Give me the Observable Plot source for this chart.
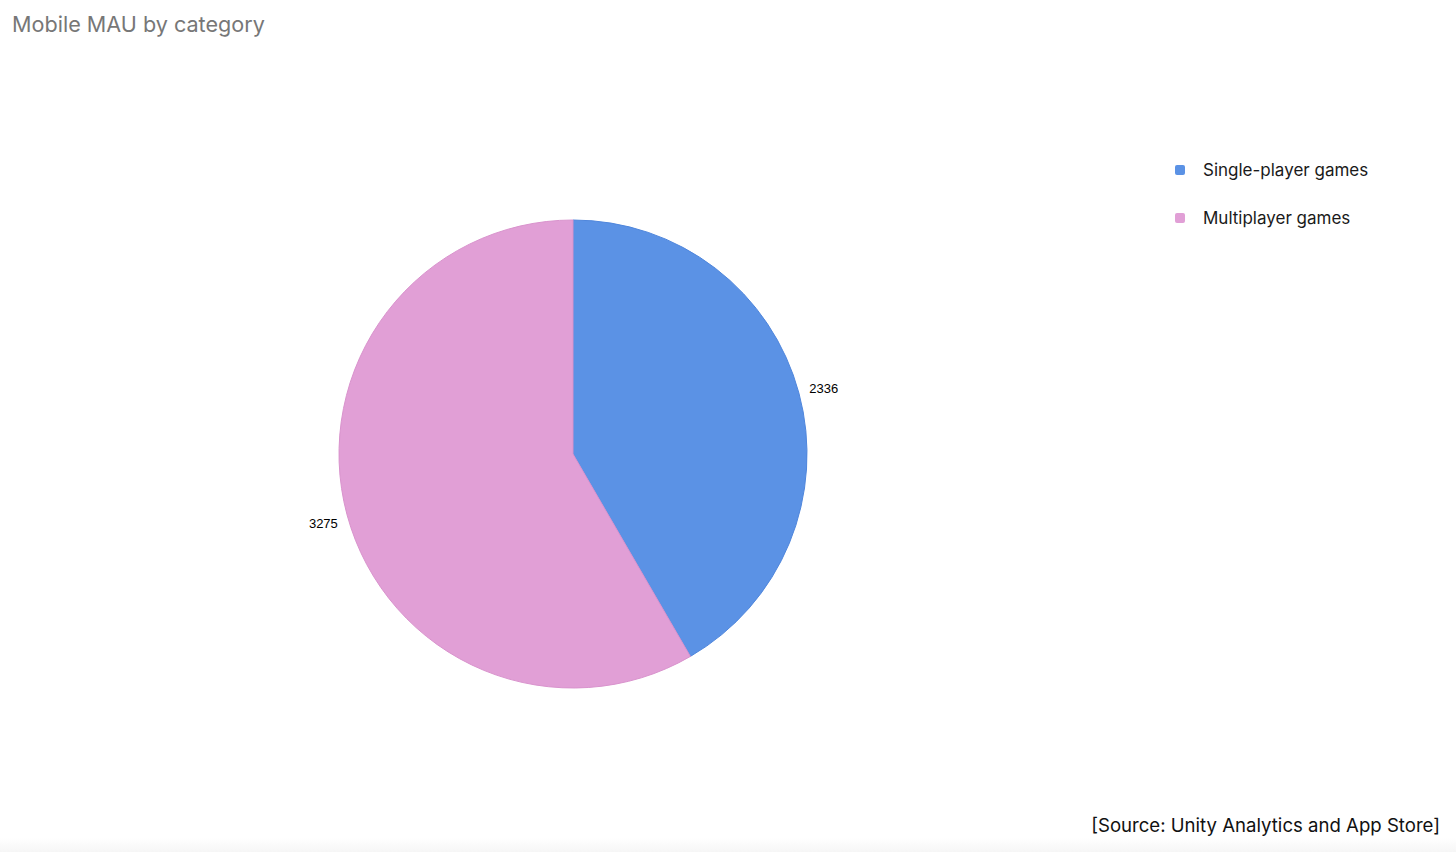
<!DOCTYPE html>
<html>
<head>
<meta charset="utf-8">
<script src="https://cdn.jsdelivr.net/npm/d3@7"></script>
<script src="https://cdn.jsdelivr.net/npm/@observablehq/plot@0.6"></script>
<style>
  html, body { margin: 0; padding: 0; background: #fff; }
  body { width: 1456px; height: 852px; position: relative; overflow: hidden; font-family: Inter, "Noto Sans", sans-serif; }
  #title { position: absolute; left: 12px; top: 11px; font-size: 21.6px; color: #777; white-space: nowrap; }
  #legend { position: absolute; left: 1175px; top: 158px; font-size: 17px; color: #1a1a1a; width: 260px; }
  .item { position: relative; height: 48px; white-space: nowrap; }
  .sw { position: absolute; left: 0; top: 7px; width: 10px; height: 10px; border-radius: 2px; }
  .lab { position: absolute; left: 28px; top: 0; line-height: 24px; white-space: nowrap; }
  #caption { position: absolute; right: 16px; top: 814px; font-size: 18.6px; color: #111; white-space: nowrap; }
  #band { position: absolute; left: 0; right: 0; top: 838px; height: 14px; background: linear-gradient(#fff, #f6f6f6); }
  #chart { position: absolute; left: 0; top: 0; }
</style>
</head>
<body>
<div id="band"></div>
<div id="chart"></div>
<div id="title">Mobile MAU by category</div>
<div id="legend"></div>
<div id="caption">[Source: Unity Analytics and App Store]</div>
<script>
const categories = ["Single-player games", "Multiplayer games"];
const values = [2336, 3275];
const colors = ["#5b92e5", "#e19fd6"];
const strokes = ["#4f86dc", "#d993cd"];

const total = d3.sum(values);
let acc = 0;
const slices = categories.map((c, i) => {
  const a0 = acc / total * 2 * Math.PI;
  acc += values[i];
  const a1 = acc / total * 2 * Math.PI;
  const mid = (a0 + a1) / 2;
  return {category: c, value: values[i], a0, a1, mid, fill: colors[i], stroke: strokes[i],
          lx: 1.107 * Math.sin(mid), ly: 1.107 * Math.cos(mid)};
});

const cx = 573, cy = 454, R = 234;

const pieMark = (index, scales) => {
  const x0 = scales.x(0), y0 = scales.y(0);
  const r = scales.x(1) - scales.x(0);
  const arc = d3.arc().innerRadius(0).outerRadius(r);
  const g = d3.create("svg:g").attr("transform", `translate(${x0},${y0})`);
  g.selectAll("path").data(slices).join("path")
    .attr("d", d => arc({startAngle: d.a0, endAngle: d.a1}))
    .attr("fill", d => d.fill)
    .attr("stroke", d => d.stroke)
    .attr("stroke-width", 1);
  return g.node();
};

const plot = Plot.plot({
  width: 1456,
  height: 852,
  margin: 0,
  x: {domain: [-1, 1], range: [cx - R, cx + R], axis: null},
  y: {domain: [-1, 1], range: [cy + R, cy - R], axis: null},
  marks: [
    pieMark,
    Plot.text(slices, {x: "lx", y: "ly", dy: 2, text: d => String(d.value), fill: "#000",
      fontSize: 13, fontFamily: "Liberation Sans, Arial, sans-serif"})
  ]
});
plot.style.background = "transparent";
document.getElementById("chart").appendChild(plot);

const legend = document.getElementById("legend");
categories.forEach((c, i) => {
  const item = document.createElement("div");
  item.className = "item";
  item.innerHTML = `<div class="sw" style="background:${colors[i]}"></div><div class="lab">${c}</div>`;
  legend.appendChild(item);
});
</script>
</body>
</html>
